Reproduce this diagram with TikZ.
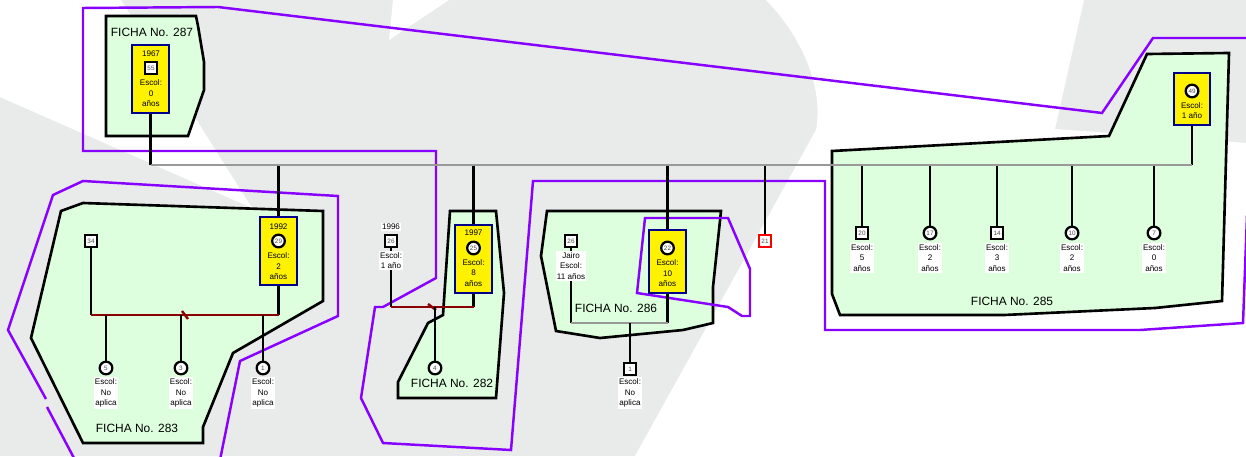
\documentclass[tikz,border=0pt]{standalone}
\usepackage{fontspec}
\setmainfont{Liberation Sans}
\definecolor{fondo}{RGB}{233,234,234}
\definecolor{verde}{RGB}{221,255,221}
\definecolor{morado}{RGB}{136,0,255}
\definecolor{marino}{RGB}{0,0,139}
\definecolor{rojo}{RGB}{139,0,0}
\definecolor{gris}{RGB}{153,153,153}

\begin{document}
\begin{tikzpicture}[x=0.02cm, y=-0.02cm,
		ficha/.style={draw, line width=1.5pt, fill=verde},
		union/.style={draw=morado, line width=1.4pt},
		yb/.style={draw=marino, line width=1.2pt, fill=yellow, minimum width=0.74cm, minimum height=1.36cm, inner sep=0},
		sq/.style={draw, line width=1.3pt, fill=white, minimum size=6.5pt, inner sep=0, text=black!70, font=\fontsize{3.6}{4}\selectfont},
		ci/.style={sq, circle, minimum size=7.2pt},
		txt/.style={font=\fontsize{4.6}{6}\selectfont, align=center, inner sep=0.8pt},
		wtxt/.style={txt, fill=white},
		lbl/.style={font=\fontsize{6.8}{8}\selectfont},
		link/.style={line width=1.3pt},
		gline/.style={line width=1.5pt, draw=gris},
		mline/.style={line width=1.4pt, draw=rojo}]
		\useasboundingbox (0,0) rectangle (1246,456);
		\clip (0,0) rectangle (1246,456);
		\fill[fondo] (0,0) rectangle (1246,456);
		\fill[white] (0,0) -- (121,0) -- (252,208) -- (0,97) -- cycle;
		\fill[white] (393,0) -- (449,0) -- (389,40) -- cycle;
		\fill[white] (766,0) .. controls (800,35) and (824,85) .. (816,130) -- (635,456) -- (1246,456) -- (1246,143) -- (1055,129) -- (1084,0) -- cycle;
		% fichas
		\draw[ficha] (106,16) -- (196,16) -- (198,26) -- (204,62) -- (204,90) -- (188,136) -- (106,136) -- cycle;
		\draw[ficha] (61,211) -- (83,203) -- (323,211) -- (323,301) -- (233,353) -- (203,427) -- (203,443) -- (83,443) -- (31,338) -- cycle;
		\draw[ficha] (450,211) -- (496,211) -- (504,293) -- (496,398) -- (398,398) -- (398,382) -- (428,323) -- (443,315) -- cycle;
		\draw[ficha] (547,211) -- (721,211) -- (713,287) -- (713,323) -- (683,330) -- (600,338) -- (556,331) -- (541,256) -- cycle;
		\draw[ficha] (832,151) -- (1109,136) -- (1147,54) -- (1229,53) -- (1222,301) -- (1155,308) -- (1004,315) -- (840,315) -- (832,294) -- cycle;
		\draw[union] (1250,38) -- (1153,38) -- (1102,113) -- (218,7) -- (83,8) -- (83,151) -- (436,151) -- (436,278) -- (383,307) -- (375,307) -- (361,398) -- (383,443) -- (511,450) -- (533,181) -- (825,181) -- (825,330) -- (1140,330) -- (1243,323) -- (1247,215);
		\draw[union] (75,460) -- (47,407);
		\draw[union] (46,399) -- (8,330) -- (53,195) -- (83,181) -- (338,196) -- (338,316) -- (240,361) -- (220,460);
		\draw[union] (645,218) -- (728,218) -- (750,269) -- (750,316) -- (742,316) -- (728,307) -- (637,293) -- cycle;
		\node[lbl] (f287) at (152,32) {FICHA No. 287};
		\node[lbl] (f283) at (137,428) {FICHA No. 283};
		\node[lbl] (f282) at (452,383) {FICHA No. 282};
		\node[lbl] (f286) at (616,308) {FICHA No. 286};
		\node[lbl] (f285) at (1012,301) {FICHA No. 285};
		% 287
		\node[yb] (y287) at (150.5,79) {};
		\node[txt] (a287) at (151,54) {1967};
		\node[sq] (s55) at (151,68) {55};
		\node[txt] (e287) at (151,93.5) {Escol:\\0\\años};
		% 283
		\node[yb] (y283) at (278.5,251) {};
		\node[txt] (a283) at (278.5,227) {1992};
		\node[ci] (c29) at (278.5,241) {29};
		\node[txt] (e283) at (278.5,266.5) {Escol:\\2\\años};
		\node[sq] (s34) at (91,241) {34};
		\node[ci] (c5) at (106,368) {5};
		\node[ci] (c3) at (181,368) {3};
		\node[ci] (c1) at (263,368) {1};
		% 282
		\node[yb] (y282) at (473.5,259) {};
		\node[txt] (a282) at (473.5,233) {1997};
		\node[ci] (c25) at (473.5,248) {25};
		\node[txt] (e282) at (473.5,273) {Escol:\\8\\años};
		\node[sq] (s26a) at (391,241) {26};
		\node[ci] (c4) at (435,368) {4};
		% 286
		\node[yb, minimum height=1.26cm] (y286) at (667.5,261.5) {};
		\node[ci] (c22) at (667.5,248) {22};
		\node[txt] (e286) at (667.5,273.5) {Escol:\\10\\años};
		\node[sq] (s26b) at (571,241) {26};
		\node[sq] (s1) at (630,369) {1};
		\node[sq, draw=red] (s21) at (765,241) {21};
		% 285
		\node[yb, minimum width=0.72cm, minimum height=1.04cm] (y285) at (1192,99) {};
		\node[ci] (c49) at (1192,91) {49};
		\node[txt] (e285) at (1192,110.5) {Escol:\\1 año};
		\node[sq] (s20) at (862,233) {20};
		\node[ci] (c17) at (930,233) {17};
		\node[sq] (s14) at (997,233) {14};
		\node[ci] (c10) at (1072,233) {10};
		\node[ci] (c7) at (1154,233) {7};
		% lineas
		\coordinate (j287) at (y287 |- 0,165);
		\coordinate (j285) at (y285 |- j287);
		\coordinate (j283) at (y283 |- j287);
		\coordinate (j282) at (y282 |- j287);
		\coordinate (j286) at (y286 |- j287);
		\coordinate (j21) at (s21 |- j287);
		\coordinate (j20) at (s20 |- j287);
		\coordinate (j17) at (c17 |- j287);
		\coordinate (j14) at (s14 |- j287);
		\coordinate (j10) at (c10 |- j287);
		\coordinate (j7) at (c7 |- j287);
		\draw[link] (y287) -- (j287);
		\draw[link] (y285) -- (j285);
		\draw[link] (j283) -- (y283);
		\draw[link] (j282) -- (y282);
		\draw[link] (j286) -- (y286);
		\draw[link] (j21) -- (s21);
		\draw[link] (j20) -- (s20);
		\draw[link] (j17) -- (c17);
		\draw[link] (j14) -- (s14);
		\draw[link] (j10) -- (c10);
		\draw[link] (j7) -- (c7);
		\draw[gline] (j287) -- (j285);
		\coordinate (m283a) at (s34 |- 0,315);
		\coordinate (m283b) at (y283 |- m283a);
		\draw[link] (s34) -- (m283a);
		\draw[link] (y283) -- (m283b);
		\draw[mline] (m283a) -- (m283b);
		\draw[mline] (182,311) -- (188,319);
		\coordinate (k5) at (c5 |- m283a);
		\coordinate (k3) at (c3 |- m283a);
		\coordinate (k1) at (c1 |- m283a);
		\draw[link] (k5) -- (c5);
		\draw[link] (k3) -- (c3);
		\draw[link] (k1) -- (c1);
		\coordinate (m282a) at (s26a |- 0,307);
		\coordinate (m282b) at (y282 |- m282a);
		\draw[link] (s26a) -- (m282a);
		\draw[link] (y282) -- (m282b);
		\draw[mline] (m282a) -- (m282b);
		\draw[mline] (428,304) -- (436,310);
		\coordinate (k4) at (c4 |- m282a);
		\draw[link] (k4) -- (c4);
		\coordinate (m286a) at (s26b |- 0,323);
		\coordinate (m286b) at (y286 |- m286a);
		\draw[link] (s26b) -- (m286a);
		\draw[link] (y286) -- (m286b);
		\draw[gline] (m286a) -- (m286b);
		\coordinate (k1b) at (s1 |- m286a);
		\draw[link] (k1b) -- (s1);
		% etiquetas
		\node[wtxt] (d26a) at (391,227) {1996};
		\node[wtxt] (e26a) at (391,260.5) {Escol:\\1 año};
		\node[wtxt] (e26b) at (571,266) {Jairo\\Escol:\\11 años};
		\node[wtxt] (e5) at (106,393) {Escol:\\No\\aplica};
		\node[wtxt] (e3) at (181,393) {Escol:\\No\\aplica};
		\node[wtxt] (e1) at (263,393) {Escol:\\No\\aplica};
		\node[wtxt] (e1b) at (630,393) {Escol:\\No\\aplica};
		\node[wtxt] (e20) at (862,258) {Escol:\\5\\años};
		\node[wtxt] (e17) at (930,258) {Escol:\\2\\años};
		\node[wtxt] (e14) at (997,258) {Escol:\\3\\años};
		\node[wtxt] (e10) at (1072,258) {Escol:\\2\\años};
		\node[wtxt] (e7) at (1154,258) {Escol:\\0\\años};
	\end{tikzpicture}
\end{document}
